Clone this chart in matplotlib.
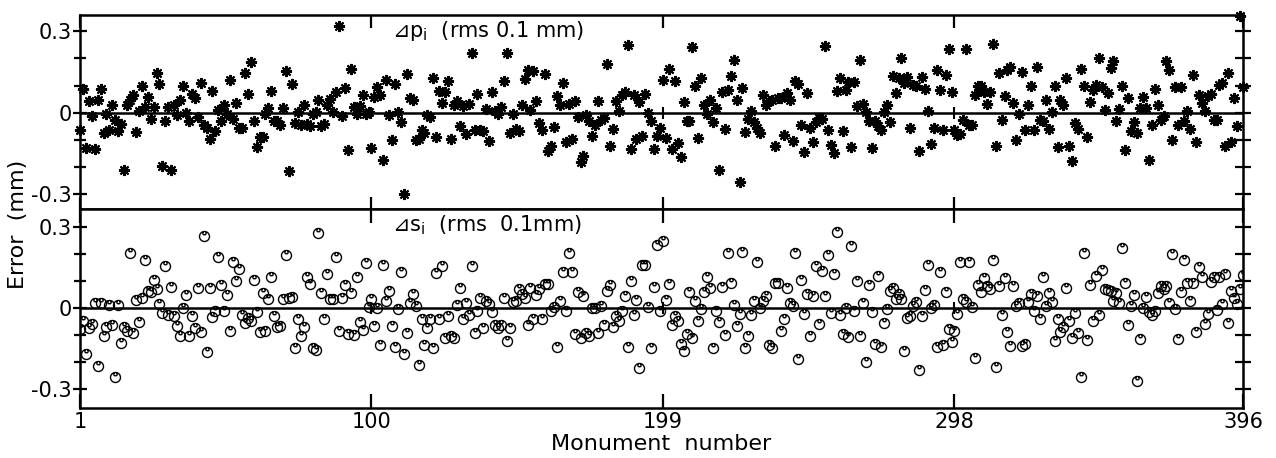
import numpy as np
import matplotlib
matplotlib.use("Agg")
import matplotlib.pyplot as plt
from matplotlib.path import Path

# ---------------- data ----------------
dp = [
    -0.065, 0.088, -0.13, 0.044, -0.013, -0.135, 0.048, 0.088, -0.075, -0.004,
    -0.062, 0.029, -0.026, -0.066, -0.042, -0.21, 0.029, 0.045, 0.066, -0.072,
    0.007, 0.10, 0.02, 0.056, -0.023, 0.02, 0.145, 0.107, -0.197, -0.029,
    0.021, -0.213, 0.029, -0.007, 0.045, 0.097, -0.002, -0.032, 0.069, 0.054,
    -0.017, 0.109, -0.044, -0.056, -0.096, 0.08, -0.066, 0.011, -0.032, 0.029,
    -0.005, 0.119, -0.023, 0.036, -0.056, -0.056, 0.148, 0.069, 0.185, -0.029,
    -0.126, -0.091, -0.091, -0.005, 0.017, 0.081, -0.032,
    -0.029, -0.044, 0.017,
    0.154, -0.216, 0.105, -0.038, 0.002, -0.044, 0.027, -0.042, -0.05, -0.005,
    0.002, 0.048, -0.05, -0.042, 0.029, 0.051, 0.002, 0.076, 0.32, -0.013,
    0.091, -0.136, 0.162, 0.02, -0.005, 0.023, 0.066, -0.005, 0.002, -0.13,
    0.056, 0.093, 0.064, -0.173, 0.121, -0.007, -0.099, 0.105, 0.002, -0.036,
    -0.30, 0.143, 0.054, 0.048, -0.099, -0.096, -0.062, -0.075, -0.01, -0.017,
    0.127, -0.091, 0.081, 0.036, 0.076, 0.115, -0.097, 0.027, 0.044, -0.048,
    0.023, -0.078, 0.032,
    0.219, -0.062, 0.069, -0.062, -0.066, 0.013, -0.105,
    0.078, 0.005, -0.005, 0.02, 0.118, 0.219, -0.075, -0.005, -0.059, -0.069,
    0.029, 0.125, 0.158, 0.011, 0.152, 0.042, -0.038, -0.062, 0.142, -0.142,
    -0.121, -0.054, 0.062, 0.027, 0.109, -0.109, 0.032, -0.096, 0.042, -0.017,
    -0.181, -0.161, -0.01, -0.032, -0.087, -0.044, 0.044, -0.026, -0.02, 0.179,
    -0.124, -0.06, 0.042, 0.007, 0.066, 0.076, 0.25, -0.134, 0.066, -0.096,
    0.039, -0.087, 0.069, -0.001, -0.029, -0.134, -0.087, -0.056, 0.121,
    -0.093, 0.162, -0.134, 0.115, -0.112, -0.164, 0.039, -0.029, -0.029, 0.241,
    0.10, -0.093, 0.127, 0.027, -0.005, 0.048, -0.034, 0.017, -0.21, 0.075,
    -0.059, 0.085, 0.137, 0.195, 0.048, -0.256, 0.091, -0.071, -0.022, 0.007,
    -0.034, -0.056, -0.075, 0.066, 0.029, 0.042, 0.048, -0.124, 0.054, 0.054,
    -0.083, 0.071, 0.048, -0.105, 0.118, 0.107, -0.044, -0.146, 0.072, -0.056,
    -0.108, -0.034, -0.02, -0.022, 0.244, -0.062, -0.118, -0.149, 0.081, 0.127,
    -0.069, 0.085, 0.113, -0.126, 0.113, 0.023, 0.195,
    0.032, 0.002, -0.029,
    -0.13, -0.032, -0.048, -0.062, 0.002, 0.027, -0.034, 0.134, 0.072, 0.127,
    0.201, 0.109, 0.13, -0.056, 0.103, 0.10, -0.14, 0.13, 0.088, 0.005,
    -0.115, -0.056, 0.158, 0.085, -0.062, 0.14, 0.234, 0.075, -0.062, -0.083,
    -0.078, -0.026, 0.234, -0.044, -0.044, 0.066, 0.10, 0.097, 0.076, 0.032,
    0.078, 0.254, -0.121, 0.146, -0.026, 0.062, 0.156, 0.17, 0.036, -0.099,
    -0.005, 0.15, -0.062, 0.029, 0.097, -0.062, 0.17, -0.026, -0.032, 0.048,
    -0.059, 0.002, 0.10, -0.126,
    0.048, 0.027, 0.127, -0.121, -0.179, -0.038,
    -0.059, 0.161, 0.099, -0.089, 0.039, 0.085, 0.103, 0.201, 0.096, 0.011,
    0.072, 0.164, 0.189, -0.032, 0.015, 0.099, -0.138, 0.054, -0.066, -0.034,
    -0.075, 0.017, 0.056, 0.017, -0.173, -0.044, 0.088, 0.029, -0.026, -0.011,
    0.189, 0.158, -0.099, 0.093, -0.044, 0.093, -0.029, 0.007, -0.06, 0.14,
    -0.108, 0.066, 0.036, 0.007, 0.06, 0.069, -0.026, -0.026, 0.103, 0.109,
    -0.124, 0.146, -0.109, 0.054, -0.048, 0.355, 0.093,
]

ds = [
    -0.078, -0.05, -0.17, -0.074, -0.059, 0.019, -0.214, 0.016, -0.105, -0.072,
    0.012, -0.062, -0.257, 0.009, -0.13, -0.071, -0.087, 0.202, -0.093, 0.029,
    -0.052, 0.035, 0.176, 0.062, 0.058, 0.103, 0.071, 0.015, -0.019, 0.155,
    -0.025, 0.077, -0.029, -0.066, -0.103, 0.0, 0.046, -0.103, -0.031, -0.074,
    0.074, -0.09, 0.264, -0.165, 0.074, -0.035, -0.01, 0.186, 0.083, -0.01,
    0.047, -0.084, 0.17, 0.099, 0.143, -0.025, -0.056, -0.037, -0.05, 0.103,
    -0.016, -0.09, 0.053, -0.087, 0.031, 0.112, -0.031, -0.072, -0.068, 0.031,
    0.195, 0.037, 0.041, -0.149, -0.04, -0.103, -0.072, 0.112, 0.087, -0.149,
    -0.157, 0.276, 0.056, -0.041, 0.124, 0.033, 0.033, 0.186, -0.087, 0.037,
    0.083, -0.095, 0.056, -0.099, 0.112, -0.053, -0.081, 0.167, 0.004, 0.033,
    -0.068, 0.0, -0.136, 0.157, 0.027, 0.062, -0.068, -0.143, -0.006, 0.133,
    -0.17, -0.093, 0.016, 0.05, 0.006, -0.21,
    -0.043, -0.136, -0.074, -0.043,
    -0.149, 0.13, -0.043, 0.155, -0.112, -0.031, -0.105, -0.112, 0.012, 0.072,
    -0.04, 0.019, -0.027, 0.155, -0.093, -0.012, 0.035, -0.074, 0.025, 0.015,
    -0.015, -0.062, -0.074, -0.062, 0.037, -0.121, -0.074, 0.022, 0.027, 0.068,
    0.052, 0.037, -0.062, 0.072, -0.043, 0.046, 0.068, -0.043, 0.087, 0.087,
    -0.012, 0.002, -0.145, 0.027, 0.133, -0.012, 0.204, 0.133, -0.097, 0.059,
    -0.112, 0.043, -0.093, -0.105, 0.0, 0.0, -0.093, 0.006, -0.062, 0.062,
    0.084, -0.072, -0.031, -0.047, -0.01, 0.043, -0.143, 0.099, -0.025, 0.03,
    -0.221, 0.159, 0.159, 0.002, -0.149, 0.077, 0.233, -0.01, 0.248, 0.029,
    0.087, -0.062, -0.031, -0.047, -0.133, -0.161, -0.097, 0.059, -0.112, 0.027,
    -0.047, -0.006, 0.059, 0.114, 0.074, -0.149, -0.01, -0.052, 0.077, -0.099,
    0.201, 0.093, 0.01, -0.068, -0.022, 0.208, -0.149, -0.105, -0.025, 0.025,
    0.171, -0.002, 0.027, 0.043, -0.136, -0.149, 0.093, 0.093, -0.087, -0.043,
    0.074, 0.019, 0.006, 0.201, -0.188, 0.102, -0.022, 0.052, -0.105, 0.043,
    0.155, -0.06, 0.136, 0.043, 0.195, -0.019, 0.126, 0.28,
    -0.025, -0.098,
    0.0, -0.108, 0.227, -0.01, 0.098, -0.104, 0.018, -0.199, 0.083, -0.015,
    -0.135, 0.118, -0.145, -0.056, -0.003, 0.063, 0.073, 0.033, 0.051, 0.033,
    -0.16, -0.037, -0.031, 0.005, 0.023, -0.23, -0.029, 0.066, 0.158, 0.001,
    0.01, -0.146, 0.131, -0.139, 0.059, -0.078, -0.127, -0.085, -0.021, 0.169,
    0.032, 0.022, 0.169, 0.003, -0.185, 0.085, 0.06, 0.11, 0.079, 0.07,
    0.177, -0.218, 0.079, -0.027, 0.11, -0.088, -0.141, 0.082, 0.008, 0.018,
    -0.142, -0.133, 0.023, 0.051, -0.01, 0.045, -0.041, 0.112, 0.005, 0.054,
    0.02, -0.121, -0.042, -0.088, -0.072, 0.075, -0.048, -0.113, -0.02, -0.094,
    -0.257, 0.203, -0.118, 0.085, -0.05, 0.116, -0.025, 0.14, 0.069, 0.067,
    0.061, 0.024, 0.055, 0.016, 0.221, 0.093, -0.064, 0.007, 0.046, -0.27,
    -0.114, 0.0, 0.039, -0.016, -0.028, -0.012, 0.053, 0.08, 0.068, 0.082,
    0.016, 0.2, -0.005, -0.115, 0.06, 0.177, 0.093, 0.026, 0.09, -0.088,
    0.149, 0.115, -0.059, -0.022, 0.097, 0.113, -0.008, 0.113, 0.013, 0.125,
    -0.055, 0.062, 0.038, 0.013, 0.071, 0.12,
]

monument_p = np.arange(1, len(dp) + 1)
monument_s = np.arange(1, len(ds) + 1)

xticks = [1, 100, 199, 298, 396]
inner_xticks = [100, 199, 298]
ymajor = [-0.3, 0.0, 0.3]
ymajor_labels = ["-0.3", "0", "0.3"]
yminor = [-0.2, -0.1, 0.1, 0.2]
yright = [-0.3, -0.2, -0.1, 0.0, 0.1, 0.2, 0.3]

title_p = "\u22bfp$_{\\mathrm{i}}$  (rms 0.1 mm)"
title_s = "\u22bfs$_{\\mathrm{i}}$  (rms  0.1mm)"

# ---------------- style ----------------
plt.rcParams['font.family'] = ['DejaVu Sans', 'Noto Sans']
FS = 15
LW = 1.8

fig = plt.figure(figsize=(12.76, 4.58), dpi=100)
L, W = 80 / 1276, (1243 - 80) / 1276
ax1 = fig.add_axes([L, 1 - 209 / 458, W, (209 - 15) / 458])
ax2 = fig.add_axes([L, 1 - 408 / 458, W, (408 - 209) / 458])

# circle marker with a small mark at the top
circ = Path.unit_circle()
u = Path([(-0.32, 0.92), (-0.32, 0.5), (-0.15, 0.35), (0.15, 0.35), (0.32, 0.5), (0.32, 0.92)],
         [Path.MOVETO, Path.LINETO, Path.LINETO, Path.LINETO, Path.LINETO, Path.LINETO])
circ_marker = Path.make_compound_path(circ, u)

ax1.plot(monument_p, dp, linestyle='none', marker=(8, 2, 0), ms=8, mew=1.5,
         color='black', clip_on=False, zorder=3)
ax1.plot(monument_p, dp, linestyle='none', marker='o', ms=2.8, color='black',
         clip_on=False, zorder=3)
ax2.plot(monument_s, ds, linestyle='none', marker=circ_marker, ms=7.2, mew=1.0,
         mfc='none', mec='black', zorder=3)

for ax, ylim in ((ax1, (-0.355, 0.36)), (ax2, (-0.37, 0.365))):
    ax.set_xlim(1, 396)
    ax.set_ylim(*ylim)
    ax.axhline(0, color='black', lw=LW, zorder=2)
    ax.plot(inner_xticks, [0] * len(inner_xticks), linestyle='none', marker='|',
            ms=9, mew=1.5, color='black', zorder=2)
    for s in ax.spines.values():
        s.set_linewidth(LW)
    ax.set_yticks(ymajor)
    ax.set_yticklabels(ymajor_labels)
    ax.set_yticks(yminor, minor=True)
    ax.tick_params(axis='y', which='major', direction='inout', length=10, width=1.6,
                   labelsize=FS, pad=1, left=True, right=False)
    ax.tick_params(axis='y', which='minor', direction='inout', length=9, width=1.6,
                   left=True, right=False)
    axr = ax.secondary_yaxis('right')
    axr.set_yticks(yright)
    axr.tick_params(axis='y', direction='inout', length=12, width=1.6, labelright=False)
    axr.spines['right'].set_visible(False)
    ax.set_xticks(xticks)

ax1.tick_params(axis='x', which='both', direction='in', length=9, width=1.6,
                top=True, bottom=True, labelbottom=False)
ax2.tick_params(axis='x', which='both', direction='in', length=10, width=1.6,
                top=True, bottom=True, labelsize=FS, pad=3)
ax2.set_xticklabels([str(t) for t in xticks])

ax1.text(107, 0.30, title_p, fontsize=15, ha='left', va='center')
ax2.text(107, 0.307, title_s, fontsize=15, ha='left', va='center')

fig.text(18 / 1276, 0.51, "Error  (mm)", rotation=90, fontsize=16,
         ha='center', va='center')
fig.text((80 + 1243) / 2 / 1276, 1 - 444 / 458, "Monument  number", fontsize=16,
         ha='center', va='center')

fig.savefig("out.png", dpi=100)
